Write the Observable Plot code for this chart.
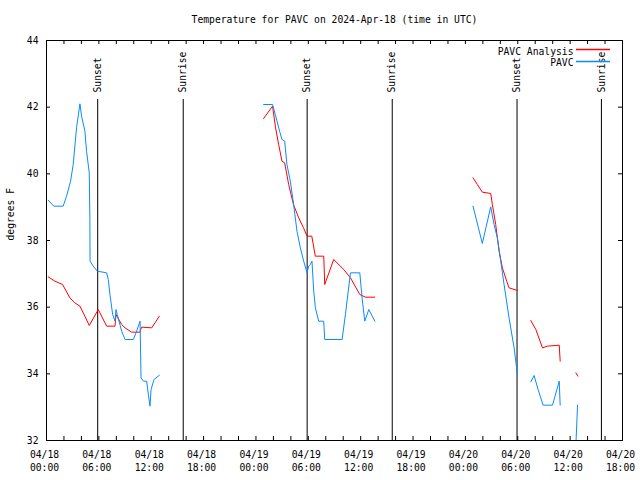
<!DOCTYPE html>
<html>
<head>
<meta charset="utf-8">
<script src="https://cdn.jsdelivr.net/npm/d3@7"></script>
<script src="https://cdn.jsdelivr.net/npm/@observablehq/plot@0.6"></script>
<style>
  html, body { margin: 0; padding: 0; background: #fff; }
  svg { display: block; }
</style>
</head>
<body>
<div id="chart"></div>
<script>
// ---- data (hours after 2024-04-18 00:00 UTC, temperatures in °F; null = gap) ----
const startTime = "2024-04-18T00:00:00Z";
const endTime = "2024-04-20T18:00:00Z";
const titleText = "Temperature for PAVC on 2024-Apr-18 (time in UTC)";
const yLabel = "degrees F";
const seriesNames = ["PAVC Analysis", "PAVC"];

const analysisHours = [0.19,0.96,1.84,2.68,3.25,3.83,4.40,4.90,5.93,6.89,7.85,7.96,8.61,9.00,9.76,10.70,10.90,12.06,12.93, 13.0,
  24.88,25.90,26.25,26.60,26.98,27.29,27.75,28.30,28.90,29.45,29.85,30.40,30.80,31.77,31.88,32.91,34.06,34.83,35.90,36.55,37.62, 38.0,
  48.87,49.37,49.94,50.90,51.09,51.47,51.86,52.24,52.73,53.00,53.96, 54.5,
  55.49,56.07,56.83,57.40,58.75,58.86, 59.5,
  60.66,60.90];
const analysisTemps = [36.91,36.78,36.68,36.28,36.13,36.03,35.73,35.45,35.93,35.43,35.43,35.78,35.48,35.38,35.25,35.25,35.40,35.38,35.73, null,
  41.66,42.03,41.38,40.88,40.38,40.33,39.68,39.08,38.68,38.38,38.13,38.13,37.53,37.53,36.68,37.43,37.13,36.88,36.38,36.30,36.30, null,
  39.88,39.68,39.45,39.41,39.08,38.48,37.68,37.18,36.78,36.58,36.50, null,
  35.60,35.33,34.78,34.83,34.86,34.38, null,
  34.03,33.93];

const obsHours = [0.19,0.84,1.91,2.30,2.76,3.06,3.25,3.44,3.83,4.02,4.40,4.59,4.90,4.97,4.99,5.36,5.82,6.89,7.08,7.27,7.58,7.85,7.96,8.11,8.61,9.00,9.95,10.33,10.72,10.83,11.10,11.48,11.67,11.86,11.98,12.32,12.94, 13.0,
  24.88,25.91,26.21,26.71,26.98,27.29,27.55,27.94,28.32,28.70,29.09,29.47,29.85,30.04,30.23,30.42,30.62,30.81,31.19,31.76,31.88,33.87,34.25,34.83,35.90,36.16,36.47,36.93,37.62, 38.0,
  48.87,49.94,50.90,51.28,51.66,52.05,52.43,53.00,53.58,53.96, 54.5,
  55.49,55.87,56.33,56.90,57.98,58.75,58.86, 59.5,
  60.66,60.85];
const obsTemps = [39.21,39.03,39.03,39.33,39.78,40.28,40.83,41.38,42.10,41.73,41.28,40.68,40.03,38.63,37.38,37.23,37.08,37.03,36.83,36.38,35.78,35.58,35.93,35.78,35.28,35.03,35.03,35.28,35.58,33.88,33.78,33.78,33.38,33.03,33.53,33.83,33.96, null,
  42.08,42.08,41.78,41.28,41.03,40.98,40.28,39.78,39.08,38.28,37.78,37.38,37.03,37.23,37.28,37.38,36.48,35.98,35.58,35.58,35.03,35.03,35.78,37.03,37.03,36.28,35.58,35.93,35.58, null,
  39.03,37.91,39.01,38.48,38.08,37.38,36.68,35.68,34.78,33.98, null,
  33.76,33.95,33.53,33.06,33.06,33.78,33.06, null,
  31.88,33.06];

const sunEvents = ["2024-04-18T05:52Z","2024-04-18T15:40Z","2024-04-19T05:52Z","2024-04-19T15:37Z","2024-04-20T05:55Z","2024-04-20T15:35Z"];
const sunLabels = ["Sunset","Sunrise","Sunset","Sunrise","Sunset","Sunrise"];
const yTicks = [32,34,36,38,40,42,44];

// ---- build tables ----
const t0 = new Date(startTime).getTime();
const toDate = h => new Date(t0 + h * 3600e3);
const analysis = analysisHours.map((h, i) => ({t: toDate(h), v: analysisTemps[i]}));
const obs = obsHours.map((h, i) => ({t: toDate(h), v: obsTemps[i]}));
const sun = sunEvents.map((s, i) => ({t: new Date(s), label: sunLabels[i]}));
const majorTicks = d3.utcHour.every(6).range(new Date(startTime), new Date(new Date(endTime).getTime() + 1));
const minorTicks = d3.utcHour.every(2).range(new Date(startTime), new Date(new Date(endTime).getTime() + 1));

const red = "#ff0000", blue = "#0a8aff";
const FONT = "DejaVu Sans Mono, monospace";
const W = 640, H = 480, ML = 46, MR = 18, MT = 40, MB = 40;
const FW = W - ML - MR, FH = H - MT - MB;

const svg = Plot.plot({
  width: W, height: H,
  marginLeft: ML, marginRight: MR, marginTop: MT, marginBottom: MB,
  style: {fontFamily: FONT, fontSize: "9.7px", color: "black", background: "white"},
  x: {type: "utc", domain: [new Date(startTime), new Date(endTime)], axis: null},
  y: {domain: [32, 44], axis: null},
  marks: [
    Plot.frame({stroke: "black", strokeWidth: 1}),
    // ticks inside the frame
    Plot.ruleX(minorTicks, {x: d => d, insetTop: FH - 4, stroke: "black"}),
    Plot.ruleX(minorTicks, {x: d => d, insetBottom: FH - 4, stroke: "black"}),
    Plot.ruleY(yTicks, {y: d => d, insetRight: FW - 4, stroke: "black"}),
    Plot.ruleY(yTicks, {y: d => d, insetLeft: FW - 4, stroke: "black"}),
    // tick labels
    Plot.text(majorTicks, {x: d => d, text: d3.utcFormat("%m/%d"), frameAnchor: "bottom", dy: 14, dx: -2, lineAnchor: "middle", fill: "black"}),
    Plot.text(majorTicks, {x: d => d, text: d3.utcFormat("%H:%M"), frameAnchor: "bottom", dy: 27, dx: -2, lineAnchor: "middle", fill: "black"}),
    Plot.text(yTicks, {y: d => d, text: d => String(d), frameAnchor: "left", dx: -8, textAnchor: "end", lineAnchor: "middle", fill: "black"}),
    // sunrise / sunset
    Plot.ruleX(sun, {x: "t", insetTop: 59, stroke: "black", strokeWidth: 1}),
    Plot.text(sun, {x: "t", text: "label", frameAnchor: "top", dy: 52, rotate: -90, textAnchor: "start", lineAnchor: "middle", fill: "black"}),
    // data
    Plot.line(analysis, {x: "t", y: "v", stroke: red, strokeWidth: 1, clip: true, curve: "linear"}),
    Plot.line(obs, {x: "t", y: "v", stroke: blue, strokeWidth: 1, clip: true, curve: "linear"}),
    // title and axis label
    Plot.text([titleText], {text: d => d, frameAnchor: "top", dy: -21, lineAnchor: "middle", fill: "black"}),
    Plot.text([yLabel], {text: d => d, frameAnchor: "left", dx: -36, rotate: -90, lineAnchor: "middle", fill: "black"}),
    // legend labels and samples
    Plot.text([seriesNames[0]], {text: d => d, frameAnchor: "top-right", dx: -49, dy: 11, textAnchor: "end", lineAnchor: "middle", fill: "black"}),
    Plot.text([seriesNames[1]], {text: d => d, frameAnchor: "top-right", dx: -49, dy: 22.5, textAnchor: "end", lineAnchor: "middle", fill: "black"}),
    Plot.ruleY([44], {y: d => d, insetLeft: FW - 46, insetRight: 12, dy: 9, stroke: red, strokeWidth: 1.5}),
    Plot.ruleY([44], {y: d => d, insetLeft: FW - 46, insetRight: 12, dy: 21, stroke: blue, strokeWidth: 1.5})
  ]
});

document.getElementById("chart").appendChild(svg);
</script>
</body>
</html>
